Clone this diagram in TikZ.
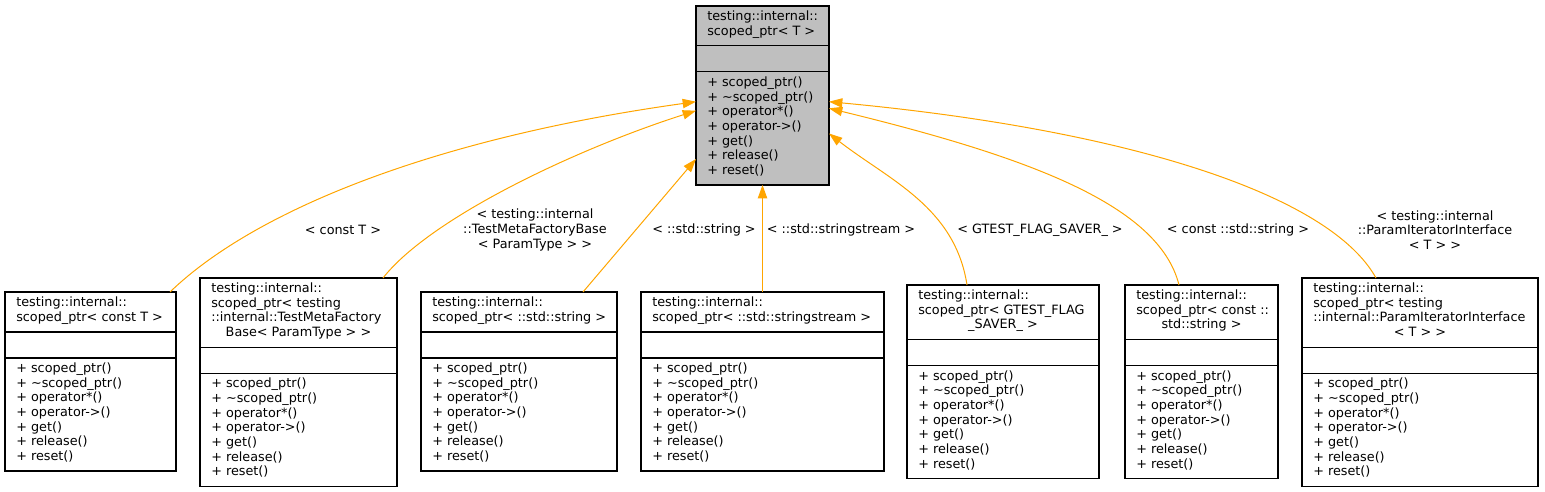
\documentclass[tikz,border=0pt]{standalone}
\usepackage{fontspec}
\setmainfont{DejaVu Sans}
\usetikzlibrary{arrows.meta,fit,calc}
\definecolor{edgeorange}{HTML}{FFA500}
\definecolor{topgray}{HTML}{BFBFBF}
\tikzset{
  cls/.style={draw=black, line width=0.8pt, fill=white, inner sep=0pt, outer sep=0pt},
  clstop/.style={fill=topgray},
  clsline/.style={draw=black, line width=0.8pt},
  txt/.style={font=\fontsize{9.6}{11}\selectfont, inner sep=0pt, align=left, text=black},
  lbl/.style={font=\fontsize{9.6}{11}\selectfont, inner sep=0pt, align=center, text=black},
  inh/.style={draw=edgeorange, line width=0.75pt, -{Triangle[length=10pt,width=7pt]}, fill=none},
}
\newcommand\opslist{+ scoped\_ptr()\\+ \textasciitilde scoped\_ptr()\\+ operator*()\\+ operator->()\\+ get()\\+ release()\\+ reset()}
% #1 name, #2 x1, #3 x2, #4 top, #5 number of title lines, #6 extra style, #7 left-aligned title lines, #8 centred last title line
\newcommand\umlbox[8]{%
  \pgfmathsetmacro\dA{#4+25.3+14.667*(#5-1)}%
  \pgfmathsetmacro\dB{\dA+26}%
  \pgfmathsetmacro\bt{\dB+113}%
  \pgfmathsetmacro\cx{(#2+#3)/2}%
  \pgfmathsetmacro\nleft{#5-(#5>2)}%
  \pgfmathsetmacro\leftbase{#4+14.6+14.667*(\nleft-1)}%
  \pgfmathsetmacro\lastbase{#4+14.6+14.667*(#5-1)}%
  \pgfmathsetmacro\opsbase{\dB+14.6+14.667*6}%
  \node[cls, #6, fit={(#2,#4) (#3,\bt)}] (#1) {};
  \draw[clsline] (#2,\dA) -- (#3,\dA) (#2,\dB) -- (#3,\dB);
  \node[txt, anchor=base west] (#1-title) at (#2+11,\leftbase) {#7};
  \node[txt, anchor=base] (#1-last) at (\cx,\lastbase) {#8};
  \node[txt, anchor=base west] (#1-ops) at (#2+11,\opsbase) {\opslist};
}
\begin{document}
\begin{tikzpicture}[x=0.75pt,y=-0.75pt]
\useasboundingbox (0,0) rectangle (1545,492);

% classes
\umlbox{top}{696}{829}{6}{2}{clstop}{testing::internal::\\scoped\_ptr< T >}{}
\umlbox{b1}{5}{176}{292}{2}{}{testing::internal::\\scoped\_ptr< const T >}{}
\umlbox{b2}{200}{397}{278}{4}{}{testing::internal::\\scoped\_ptr< testing\\::internal::TestMetaFactory}{Base< ParamType > >}
\umlbox{b3}{421}{617}{292}{2}{}{testing::internal::\\scoped\_ptr< ::std::string >}{}
\umlbox{b4}{641}{884}{292}{2}{}{testing::internal::\\scoped\_ptr< ::std::stringstream >}{}
\umlbox{b5}{907}{1099}{285}{3}{}{testing::internal::\\scoped\_ptr< GTEST\_FLAG}{\_SAVER\_ >}
\umlbox{b6}{1125}{1278}{285}{3}{}{testing::internal::\\scoped\_ptr< const ::}{std::string >}
\umlbox{b7}{1302}{1538}{278}{4}{}{testing::internal::\\scoped\_ptr< testing\\::internal::ParamIteratorInterface}{< T > >}

% inheritance connectors
\draw[inh] ($(b1.north west)+(165,0)$) .. controls +(85,-82) and +(-261,36.3) .. ($(top.north west)+(0,95.7)$);
\draw[inh] ($(b2.north west)+(183,0)$) .. controls +(47,-60) and +(-120,38.3) .. ($(top.north west)+(0,104.7)$);
\draw[inh] ($(b3.north west)+(162,0)$) -- ($(top.north west)+(0,153)$);
\draw[inh] (b4.north) -- (top.south);
\draw[inh] ($(b5.north west)+(60,0)$) .. controls +(-12,-78) and +(60,46.5) .. ($(top.north east)+(0,127.5)$);
\draw[inh] ($(b6.north west)+(54,0)$) .. controls +(-20,-80) and +(200,48.7) .. ($(top.north east)+(0,102.3)$);
\draw[inh] ($(b7.north west)+(74,0)$) .. controls +(-46,-83) and +(301,28.3) .. ($(top.north east)+(0,95.7)$);

% labels
\node[lbl] (l1) at (343,230) {< const T >};
\node[lbl] (l2) at (535,230) {< testing::internal\\::TestMetaFactoryBase\\< ParamType > >};
\node[lbl] (l3) at (704,230) {< ::std::string >};
\node[lbl] (l4) at (841,230) {< ::std::stringstream >};
\node[lbl] (l5) at (1040,230) {< GTEST\_FLAG\_SAVER\_ >};
\node[lbl] (l6) at (1238,230) {< const ::std::string >};
\node[lbl] (l7) at (1435,230) {< testing::internal\\::ParamIteratorInterface\\< T > >};
\end{tikzpicture}
\end{document}
